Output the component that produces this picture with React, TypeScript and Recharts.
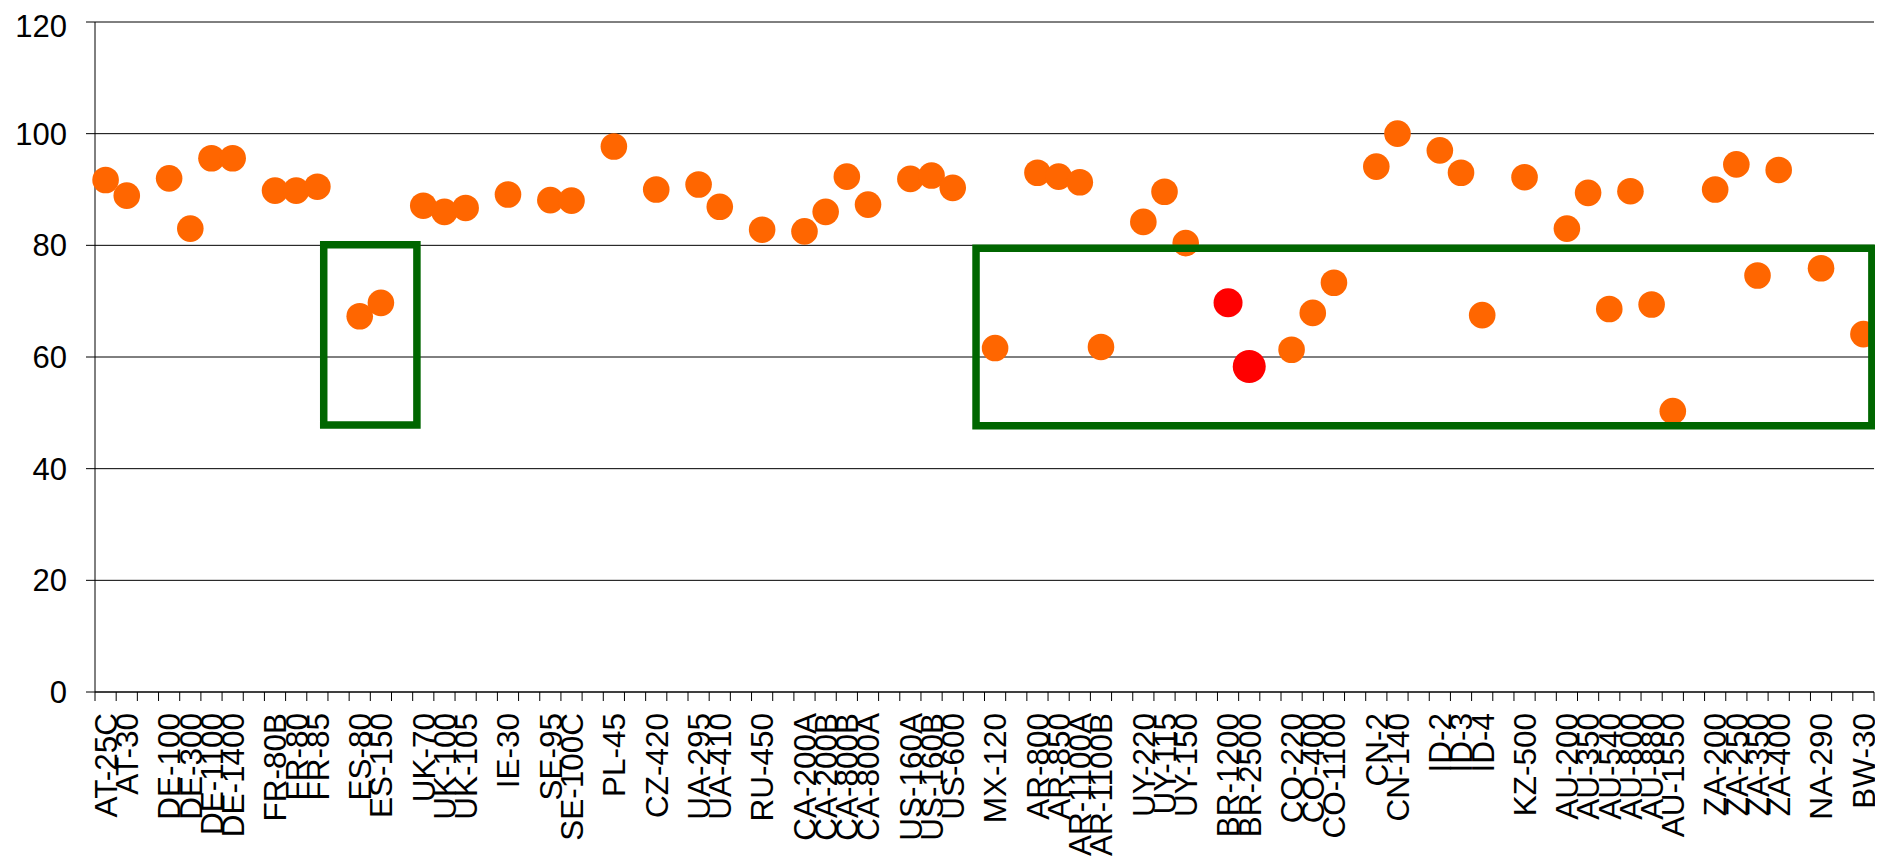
import { ScatterChart, Scatter, XAxis, YAxis, CartesianGrid, ReferenceArea } from "recharts";

// one entry per x slot; "" is an empty spacer slot between country groups
const slots = [
  "AT-25C", "AT-30", "",
  "DE-100", "DE-300", "DE-1100", "DE-1400", "",
  "FR-80B", "FR-80", "FR-85", "",
  "ES-80", "ES-150", "",
  "UK-70", "UK-100", "UK-105", "",
  "IE-30", "",
  "SE-95", "SE-100C", "",
  "PL-45", "",
  "CZ-420", "",
  "UA-295", "UA-410", "",
  "RU-450", "",
  "CA-200A", "CA-200B", "CA-800B", "CA-800A", "",
  "US-160A", "US-160B", "US-600", "",
  "MX-120", "",
  "AR-800", "AR-850", "AR-1100A", "AR-1100B", "",
  "UY-220", "UY-115", "UY-150", "",
  "BR-1200", "BR-2500", "",
  "CO-220", "CO-400", "CO-1100", "",
  "CN-2", "CN-140", "",
  "ID-2", "ID-3", "ID-4", "",
  "KZ-500", "",
  "AU-200", "AU-350", "AU-540", "AU-800", "AU-880", "AU-1550", "",
  "ZA-200", "ZA-250", "ZA-350", "ZA-400", "",
  "NA-290", "",
  "BW-30",
];

const values: (number | null)[] = [
  91.7, 88.9, null,
  92.0, 83.0, 95.6, 95.6, null,
  89.8, 89.8, 90.5, null,
  67.3, 69.7, null,
  87.1, 86.0, 86.7, null,
  89.1, null,
  88.1, 88.0, null,
  97.7, null,
  90.0, null,
  90.9, 86.9, null,
  82.8, null,
  82.5, 86.0, 92.3, 87.3, null,
  91.9, 92.5, 90.3, null,
  61.6, null,
  93.0, 92.3, 91.3, 61.8, null,
  84.2, 89.6, 80.4, null,
  69.7, 58.3, null,
  61.3, 67.9, 73.3, null,
  94.1, 100.0, null,
  97.0, 93.0, 67.5, null,
  92.2, null,
  83.0, 89.4, 68.6, 89.7, 69.4, 50.3, null,
  90.0, 94.5, 74.6, 93.5, null,
  75.9, null,
  64.1,
];

const redSites = ["BR-1200"];
const bigRedSites = ["BR-2500"];

const yTicks = [0, 20, 40, 60, 80, 100, 120];

// highlighted boxes, in slot units (x) and value units (y)
const boxes = [
  { x1: 10.8, x2: 15.2, y1: 47.8, y2: 80.1 },
  { x1: 41.6, x2: 83.9, y1: 47.7, y2: 79.5 },
];

const points = slots
  .map((label, i) => ({ label, x: i + 0.5, y: values[i] }))
  .filter((p) => p.y !== null);
const orangePoints = points.filter((p) => !redSites.includes(p.label) && !bigRedSites.includes(p.label));
const redPoints = points.filter((p) => redSites.includes(p.label));
const bigRedPoints = points.filter((p) => bigRedSites.includes(p.label));

// boundaries get a tick mark, slot centres get the label
const xTicks: number[] = [];
for (let i = 0; i <= slots.length * 2; i++) xTicks.push(i / 2);

const FONT = "'Liberation Sans', Arial, sans-serif";

const SlotTick = (props: any) => {
  const { x, y, payload } = props;
  const v = payload.value;
  if (Number.isInteger(v)) {
    return <line x1={x} x2={x} y1={y} y2={y + 9} stroke="#000" strokeWidth={1} />;
  }
  const label = slots[Math.floor(v)];
  if (!label) return <g />;
  const ty = y + 21;
  return (
    <text
      x={x}
      y={ty}
      dy="0.36em"
      transform={`rotate(-90 ${x} ${ty})`}
      textAnchor="end"
      fontSize={31.5}
      fontFamily={FONT}
      fill="#000"
    >
      {label}
    </text>
  );
};

const dot = (r: number, fill: string) => (p: any) => <circle cx={p.cx} cy={p.cy} r={r} fill={fill} />;

export default function App() {
  return (
    <ScatterChart width={1875} height={851} margin={{ top: 14, right: 9, left: 0, bottom: 0 }}>
      <CartesianGrid vertical={false} stroke="#000" strokeWidth={1} />
      <XAxis
        type="number"
        dataKey="x"
        domain={[0, slots.length]}
        ticks={xTicks}
        interval={0}
        tick={<SlotTick />}
        tickLine={false}
        tickSize={0}
        tickMargin={0}
        height={167}
        axisLine={{ stroke: "#000" }}
      />
      <YAxis
        type="number"
        dataKey="y"
        domain={[0, 120]}
        ticks={yTicks}
        width={87}
        tickSize={9}
        tickMargin={19}
        tick={{ fontSize: 31, fill: "#000", fontFamily: FONT }}
        axisLine={{ stroke: "#000" }}
        tickLine={{ stroke: "#000" }}
      />
      <YAxis
        yAxisId="border"
        orientation="right"
        domain={[0, 120]}
        width={0}
        tick={false}
        tickLine={false}
        axisLine={{ stroke: "#808080", strokeWidth: 2 }}
      />
      <Scatter data={orangePoints} shape={dot(13.3, "#FF6600")} isAnimationActive={false} />
      <Scatter data={redPoints} shape={dot(14.5, "#FF0000")} isAnimationActive={false} />
      <Scatter data={bigRedPoints} shape={dot(16.5, "#FF0000")} isAnimationActive={false} />
      {boxes.map((b, i) => (
        <ReferenceArea
          key={i}
          x1={b.x1}
          x2={b.x2}
          y1={b.y1}
          y2={b.y2}
          fill="none"
          fillOpacity={0}
          stroke="#006600"
          strokeWidth={7.5}
          strokeOpacity={1}
          ifOverflow="visible"
          zIndex={1000}
        />
      ))}
    </ScatterChart>
  );
}
